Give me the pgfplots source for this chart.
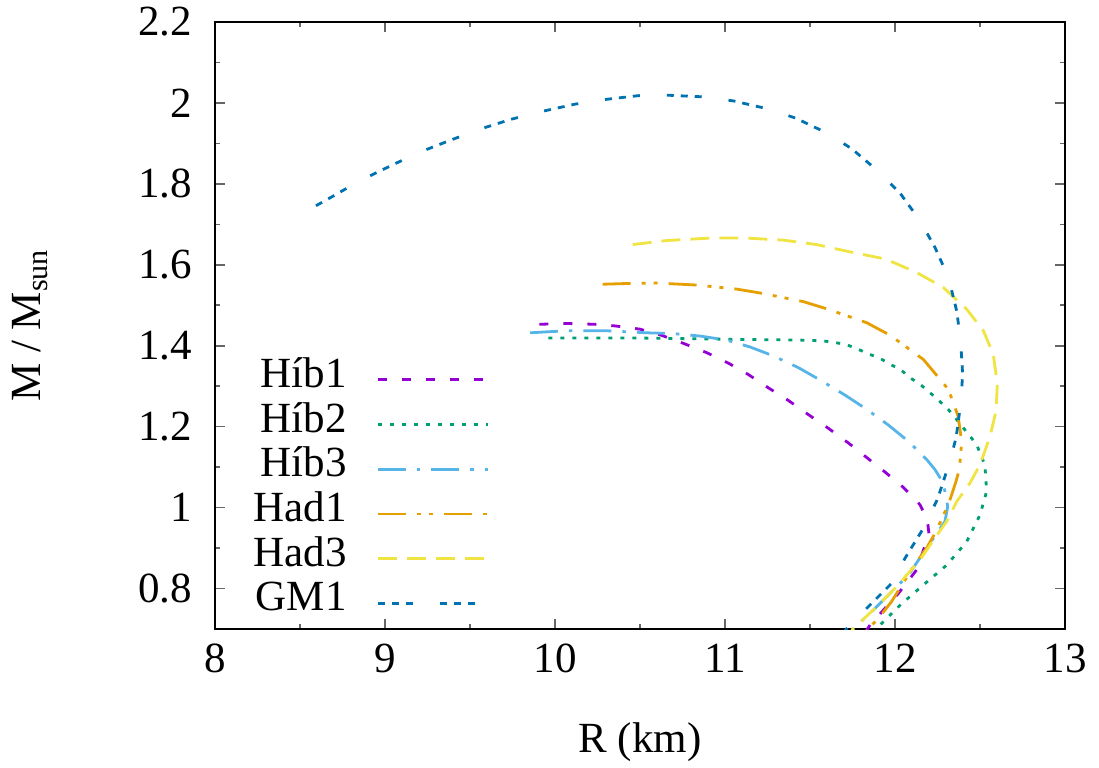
\documentclass[border=0pt]{standalone}
\usepackage{fontspec}
\setmainfont{Liberation Serif}
\usepackage{pgfplots}
\pgfplotsset{compat=1.18}
\definecolor{cHa}{HTML}{9400D3}
\definecolor{cHb}{HTML}{009E73}
\definecolor{cHc}{HTML}{56B4E9}
\definecolor{cHd}{HTML}{E69F00}
\definecolor{cHe}{HTML}{F0E442}
\definecolor{cGM}{HTML}{0072B2}
\begin{document}
\begin{tikzpicture}[font=\fontsize{21.5}{25}\selectfont]
\begin{axis}[
  scale only axis, width=425pt, height=303.5pt,
  xmin=8, xmax=13, ymin=0.7, ymax=2.2,
  xtick={8,9,10,11,12,13},
  minor xtick={8.5,9.5,10.5,11.5,12.5},
  ytick={0.8,1,1.2,1.4,1.6,1.8,2,2.2},
  yticklabels={0.8,1,1.2,1.4,1.6,1.8,2,2.2},
  xticklabels={8,9,10,11,12,13},
  minor ytick={0.7,0.9,1.1,1.3,1.5,1.7,1.9,2.1},
  tick align=inside,
  major tick length=5pt, minor tick length=2.5pt,
  tick style={line width=0.8pt, color=black!60},
  axis line style={line width=1.2pt, black},
  /pgf/number format/assume math mode=true,
  xticklabel style={yshift=-4pt},
  yticklabel style={xshift=-8pt},
  xlabel={R (km)}, ylabel={M / M\textsubscript{sun}},
  xlabel style={at={(axis description cs:0.5,-0.186)}, anchor=center},
  ylabel style={at={(axis description cs:-0.2176,0.5)}, anchor=center},
  legend plot pos=right,
  legend cell align=right,
  legend image code/.code={\draw[#1] (0pt,0pt) -- (55pt,0pt);},
  legend style={at={(axis description cs:0.0447,0.448)}, anchor=north west,
    draw=none, fill=none, inner sep=0pt, row sep=0pt, column sep=15pt,
    nodes={inner sep=0pt, text height=15pt, text depth=7.35pt}},
  every axis plot/.append style={line width=1.4pt},
]
\addplot[cHa, dash pattern=on 4.5pt off 7.5pt] coordinates {
(9.908,1.453)(10.069,1.455)(10.235,1.453)(10.353,1.449)(10.5,1.441)(10.618,1.427)(10.755,1.406)(10.892,1.383)(11.02,1.357)(11.137,1.329)(11.255,1.296)(11.372,1.265)(11.49,1.23)(11.608,1.196)(11.725,1.16)(11.833,1.124)(11.941,1.088)(12.049,1.05)(12.147,1.007)(12.19,0.97)(12.2,0.935)(12.127,0.846)(12.02,0.788)(11.853,0.71)(11.833,0.697)};
\addlegendentry{Híb1}
\addplot[cHb, dash pattern=on 2pt off 4pt] coordinates {
(9.961,1.419)(10.5,1.419)(11.03,1.416)(11.441,1.414)(11.578,1.412)(11.706,1.404)(11.774,1.393)(11.843,1.38)(11.912,1.369)(11.971,1.354)(12.03,1.342)(12.088,1.321)(12.147,1.305)(12.206,1.284)(12.304,1.247)(12.343,1.228)(12.48,1.156)(12.529,1.105)(12.539,1.04)(12.5,0.982)(12.422,0.916)(12.304,0.858)(12.167,0.809)(12.03,0.759)(11.882,0.697)};
\addlegendentry{Híb2}
\addplot[cHc, dash pattern=on 14pt off 5.5pt on 1.75pt off 5.5pt] coordinates {
(9.853,1.432)(10.069,1.437)(10.304,1.437)(10.539,1.432)(10.696,1.43)(10.853,1.424)(11.01,1.414)(11.147,1.397)(11.284,1.375)(11.431,1.346)(11.569,1.313)(11.706,1.278)(11.833,1.243)(11.961,1.204)(12.078,1.164)(12.186,1.119)(12.235,1.094)(12.284,1.061)(12.31,1.003)(12.294,0.966)(12.186,0.9)(12.078,0.833)(11.98,0.792)(11.863,0.743)(11.755,0.701)(11.75,0.697)};
\addlegendentry{Híb3}
\addplot[cHd, dash pattern=on 14pt off 5.5pt on 2pt off 4pt on 2pt off 5.5pt] coordinates {
(10.28,1.552)(10.441,1.554)(10.598,1.555)(10.833,1.55)(11.069,1.54)(11.225,1.529)(11.461,1.509)(11.608,1.49)(11.833,1.457)(11.971,1.426)(12.167,1.366)(12.265,1.317)(12.314,1.292)(12.343,1.259)(12.371,1.226)(12.392,1.164)(12.386,1.131)(12.378,1.094)(12.359,1.065)(12.324,1.02)(12.304,0.999)(12.241,0.941)(12.186,0.9)(12.108,0.854)(11.98,0.768)(11.902,0.726)(11.833,0.697)};
\addlegendentry{Had1}
\addplot[cHe, dash pattern=on 9.5pt off 5pt] coordinates {
(10.457,1.65)(10.657,1.66)(10.912,1.666)(11.127,1.666)(11.343,1.661)(11.539,1.65)(11.735,1.632)(11.912,1.617)(11.99,1.606)(12.127,1.581)(12.284,1.544)(12.422,1.49)(12.52,1.437)(12.578,1.379)(12.602,1.305)(12.594,1.238)(12.559,1.176)(12.5,1.106)(12.44,1.06)(12.363,1.015)(12.304,0.966)(12.255,0.937)(12.147,0.871)(12.01,0.805)(11.892,0.755)(11.745,0.697)};
\addlegendentry{Had3}
\addplot[cGM, dash pattern=on 3.5pt off 3.5pt on 3.5pt off 3.5pt on 3.5pt off 13.5pt] coordinates {
(8.594,1.746)(8.70,1.771)(8.853,1.808)(9.04,1.846)(9.196,1.877)(9.392,1.909)(9.549,1.934)(9.745,1.96)(9.912,1.978)(10.118,1.997)(10.284,2.008)(10.49,2.018)(10.667,2.019)(10.873,2.015)(11.049,2.005)(11.245,1.986)(11.412,1.963)(11.598,1.926)(11.745,1.887)(11.902,1.831)(12.03,1.777)(12.147,1.709)(12.235,1.643)(12.314,1.569)(12.363,1.486)(12.386,1.412)(12.398,1.329)(12.386,1.255)(12.359,1.172)(12.333,1.131)(12.304,1.09)(12.249,1.02)(12.167,0.949)(12.059,0.875)(11.99,0.817)(11.833,0.751)(11.706,0.697)};
\addlegendentry{GM1}
\end{axis}
\pgfresetboundingbox
\path ([shift={(-107.5pt,-69pt)}]current axis.south west) rectangle ([shift={(17pt,11pt)}]current axis.north east);
\end{tikzpicture}
\end{document}
